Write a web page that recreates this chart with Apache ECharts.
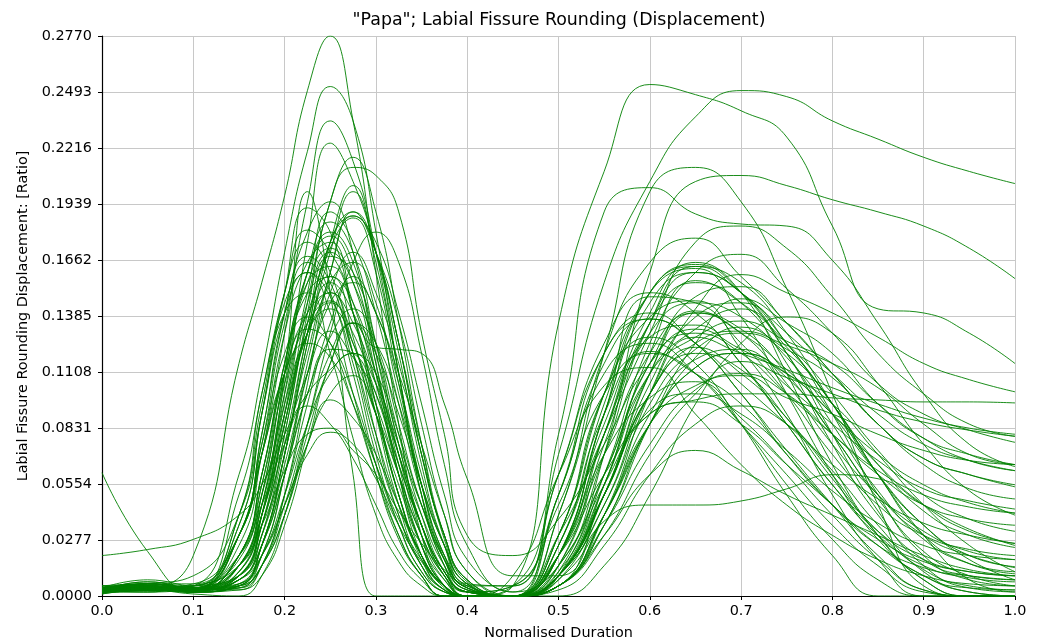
<!DOCTYPE html>
<html>
<head>
<meta charset="utf-8">
<script src="https://cdn.jsdelivr.net/npm/echarts@6/dist/echarts.min.js"></script>
<style>
  html, body { margin: 0; padding: 0; background: #fff; }
  #main { width: 1040px; height: 643px; }
</style>
</head>
<body>
<div id="main"></div>
<script>
// normalised duration sample points shared by every token curve
var xs = [0, 0.05, 0.1, 0.15, 0.175, 0.2, 0.225, 0.25, 0.275, 0.3, 0.325, 0.35, 0.375, 0.4,
          0.45, 0.5, 0.55, 0.6, 0.65, 0.7, 0.75, 0.8, 0.85, 0.9, 0.95, 1.0];

// tokens with a high first peak
var tallCurves = [
  [.003,.004,.02,.115,.155,.198,.25,.277,.235,.16,.085,.03,.005,0,.005,.135,.21,.253,.248,.24,.227,.183,.142,.14,.13,.115],
  [.004,.003,.005,.06,.11,.17,.22,.252,.235,.18,.11,.05,.015,.002,0,.07,.155,.205,.237,.25,.247,.235,.226,.217,.21,.204],
  [.002,.005,.003,.03,.07,.13,.195,.235,.215,.17,.11,.055,.018,.003,0,.04,.12,.2,.212,.195,.152,.1,.045,.005,0,0],
  [.005,.004,.002,.02,.05,.1,.175,.224,.205,.17,.12,.065,.025,.005,.005,.08,.19,.202,.189,.184,.183,.166,.135,.1,.075,.064],
  [.003,.006,.004,.015,.04,.085,.145,.195,.217,.19,.135,.075,.028,.006,0,.01,.07,.16,.205,.208,.203,.196,.19,.183,.172,.157],
  [.001,.003,.003,.01,.035,.08,.14,.195,.212,.208,.19,.13,.08,.03,.02,.038,.075,.115,.132,.122,.11,.095,.07,.045,.025,.012],
  [.002,.002,.004,.01,.04,.11,.2,.15,.06,0,0,0,0,0,0,.02,.08,.13,.145,.138,.118,.09,.06,.035,.018,.008],
  [.004,.005,.002,.005,.025,.07,.125,.175,.203,.165,.11,.05,.015,0,0,.03,.08,.13,.175,.183,.172,.148,.12,.1,.085,.079],
  [.002,.004,.005,.01,.03,.07,.125,.17,.2,.17,.125,.07,.03,.008,0,.025,.09,.15,.163,.15,.13,.11,.09,.075,.067,.062],
  [.003,.007,.004,.03,.08,.14,.18,.195,.17,.115,.06,.02,.003,0,0,.02,.07,.12,.14,.132,.11,.08,.05,.03,.02,.014],
  [.001,.003,.002,.005,.02,.06,.115,.16,.19,.17,.135,.085,.04,.012,0,.04,.12,.165,.177,.158,.135,.11,.085,.068,.06,.054],
  [.004,.005,.003,.008,.03,.075,.13,.175,.188,.17,.125,.075,.03,.007,0,.01,.06,.125,.16,.169,.152,.13,.105,.09,.082,.076],
  [.002,.002,.004,.003,.015,.05,.105,.16,.188,.175,.14,.095,.05,.018,.002,.05,.12,.137,.125,.105,.085,.065,.048,.036,.03,.026],
  [.003,.004,.003,.05,.1,.15,.181,.17,.145,.105,.06,.025,.005,0,0,.005,.04,.1,.142,.159,.15,.14,.128,.115,.107,.101],
  [.002,.003,.001,0,.01,.04,.085,.13,.165,.18,.165,.12,.065,.025,.002,.015,.06,.115,.141,.13,.112,.09,.07,.055,.046,.041]
];

// tokens with a medium first peak
var midCurves = [
  [.001,.005,.003,.004,.02,.06,.11,.15,.17,.15,.115,.07,.03,.008,0,.01,.05,.1,.123,.11,.088,.06,.03,.008,0,0],
  [.02,.023,.028,.04,.055,.08,.1,.112,.12,.105,.075,.045,.02,.005,0,.02,.06,.09,.097,.1,.1,.098,.097,.096,.096,.0955],
  [.061,.022,.002,.02,.06,.11,.14,.15,.125,.09,.05,.02,.005,0,0,.01,.05,.1,.125,.131,.124,.115,.103,.085,.07,.065],
  [.003,.006,.004,.015,.04,.09,.13,.142,.125,.09,.05,.02,.005,0,0,.005,.03,.06,.072,.062,.05,.04,.03,.02,.013,.01],
  [.004,.004,.006,.03,.07,.11,.132,.125,.1,.065,.035,.012,.002,0,0,.005,.037,.045,.045,.047,.053,.06,.058,.045,.033,.025],
  [.002,.003,.002,.008,.025,.06,.1,.122,.12,.095,.06,.03,.01,.002,.005,.05,.115,.137,.125,.1,.072,.045,.02,.003,0,0],
  [.003,.005,.002,.03,.075,.135,.165,.15,.11,.065,.03,.01,0,0,0,.03,.1,.15,.162,.138,.1,.06,.028,.01,.004,.003],
  [.004,.006,.003,.02,.06,.115,.15,.158,.128,.08,.04,.015,.003,0,0,.02,.08,.135,.155,.145,.115,.075,.04,.018,.01,.008],
  [.005,.004,.004,.015,.05,.11,.155,.172,.155,.11,.06,.025,.005,0,0,.01,.045,.095,.122,.13,.12,.095,.06,.03,.016,.011],
  [.002,.003,.005,.018,.055,.115,.16,.18,.165,.12,.07,.03,.008,0,0,.03,.1,.128,.115,.085,.05,.02,0,0,0,0],
  [.004,.005,.002,.006,.025,.07,.12,.155,.165,.145,.1,.055,.02,.004,0,.01,.055,.11,.132,.142,.123,.095,.06,.03,.008,.002],
  [.003,.007,.004,.012,.04,.085,.13,.15,.135,.105,.07,.04,.015,.003,0,.02,.09,.145,.16,.15,.125,.095,.065,.042,.03,.024],
  [.002,.004,.003,.04,.095,.145,.16,.14,.1,.06,.028,.01,0,0,0,.015,.06,.11,.128,.136,.126,.115,.095,.078,.067,.062],
  [.003,.004,.005,.01,.035,.09,.15,.19,.175,.14,.095,.05,.018,.003,0,.05,.11,.125,.11,.085,.06,.035,.015,.002,0,0],
  [.004,.005,.003,.02,.055,.105,.135,.146,.12,.09,.055,.025,.008,0,0,.01,.055,.12,.156,.145,.125,.1,.072,.05,.038,.032],
  [.002,.006,.004,.025,.07,.13,.165,.175,.14,.09,.045,.015,.002,0,0,.015,.075,.135,.16,.15,.12,.08,.042,.015,.004,.002],
  [.003,.004,.002,.005,.025,.065,.11,.145,.155,.14,.105,.06,.025,.006,0,.005,.035,.085,.113,.12,.108,.08,.048,.022,.01,.005],
  [.004,.005,.004,.01,.035,.075,.11,.131,.118,.1,.065,.035,.012,.002,0,.005,.035,.085,.125,.147,.135,.12,.095,.078,.07,.065],
  [.002,.003,.003,.01,.04,.095,.145,.17,.155,.12,.075,.035,.01,0,0,.02,.07,.098,.106,.088,.065,.04,.018,.003,0,0],
  [.003,.005,.004,.03,.075,.12,.138,.125,.095,.06,.03,.01,0,0,.005,.06,.125,.15,.14,.115,.085,.055,.032,.018,.012,.01],
  [.002,.003,.002,.003,.01,.035,.075,.115,.135,.123,.122,.12,.095,.058,.01,.01,.055,.115,.13,.12,.1,.08,.062,.05,.044,.041],
  [.004,.004,.003,.008,.03,.08,.135,.172,.187,.16,.105,.055,.02,.004,0,.025,.09,.121,.11,.095,.07,.045,.025,.014,.01,.008],
  [.003,.002,.004,.004,.015,.05,.095,.135,.158,.14,.11,.075,.04,.012,0,.012,.07,.135,.163,.155,.13,.095,.06,.035,.02,.0145],
  [.004,.006,.005,.04,.1,.14,.15,.12,.078,.04,.017,.005,0,0,0,.008,.04,.085,.118,.133,.122,.108,.085,.065,.053,.048],
  [.003,.003,.002,.015,.05,.11,.16,.178,.16,.115,.065,.025,.005,0,0,.03,.1,.138,.146,.122,.09,.05,.018,0,0,0],
  [.002,.004,.003,.006,.02,.05,.085,.11,.12,.11,.08,.045,.018,.004,0,.003,.025,.06,.085,.094,.085,.062,.035,.012,.002,0],
  [.004,.008,.005,.035,.09,.15,.192,.18,.14,.095,.05,.018,.003,0,0,.025,.095,.15,.164,.15,.12,.085,.052,.028,.016,.012],
  [.003,.004,.003,.008,.025,.06,.1,.128,.142,.125,.085,.045,.018,.004,0,.01,.045,.1,.128,.12,.112,.103,.095,.088,.083,.08],
  [.004,.005,.003,.02,.06,.115,.155,.163,.14,.095,.05,.02,.004,0,0,.01,.05,.1,.12,.112,.088,.058,.032,.013,.005,.003],
  [.002,.003,.002,.012,.04,.09,.13,.155,.14,.11,.07,.035,.012,.002,0,0,.015,.05,.095,.125,.138,.13,.105,.075,.052,.04],
  [.003,.004,.003,.005,.015,.045,.085,.12,.135,.125,.095,.055,.025,.006,.005,.06,.12,.14,.125,.1,.07,.045,.028,.017,.012,.01],
  [.002,.003,.004,.006,.025,.07,.13,.175,.19,.17,.125,.07,.03,.008,0,.005,.04,.085,.113,.12,.11,.09,.065,.045,.032,.026],
  [.004,.006,.01,.04,.09,.14,.16,.148,.115,.07,.035,.012,.002,0,0,.005,.04,.085,.104,.109,.098,.09,.08,.072,.067,.065],
  [.003,.005,.004,.03,.08,.14,.168,.155,.12,.08,.045,.02,.005,0,0,.02,.09,.148,.145,.125,.1,.07,.045,.03,.023,.02],
  [.004,.006,.003,.015,.045,.095,.13,.145,.13,.1,.065,.035,.012,.002,0,.005,.035,.075,.102,.11,.1,.08,.06,.045,.038,.035],
  [.002,.004,.004,.035,.09,.15,.175,.16,.12,.075,.04,.015,.003,0,0,.02,.085,.128,.134,.115,.085,.055,.03,.015,.009,.007],
  [.003,.005,.002,.004,.015,.04,.08,.115,.135,.12,.09,.055,.025,.006,0,.008,.05,.11,.148,.153,.135,.11,.085,.068,.06,.055],
  [.004,.004,.003,.015,.045,.1,.14,.158,.145,.11,.07,.035,.012,.002,.005,.045,.1,.12,.11,.085,.055,.028,.008,0,0,0],
  [.002,.005,.003,.012,.045,.105,.16,.185,.17,.125,.075,.035,.01,0,0,.01,.05,.105,.138,.145,.125,.09,.05,.02,.008,.005],
  [.005,.006,.006,.03,.07,.11,.125,.118,.095,.065,.038,.018,.005,0,0,.012,.055,.092,.1,.09,.072,.052,.036,.025,.02,.018],
  [.003,.004,.003,.01,.035,.085,.135,.168,.16,.125,.08,.04,.012,.002,0,.015,.08,.14,.165,.15,.11,.065,.03,.008,0,0]
];

// tokens with a low first peak
var lowCurves = [
  [.005,.005,.004,.005,.015,.04,.075,.1,.109,.09,.06,.03,.01,0,0,.01,.05,.11,.14,.13,.105,.075,.05,.032,.022,.018],
  [.002,.004,.003,.008,.02,.045,.075,.097,.088,.07,.045,.02,.005,0,0,.005,.04,.09,.117,.122,.104,.085,.067,.053,.047,.043],
  [.003,.006,.004,.02,.045,.075,.094,.085,.068,.045,.022,.008,0,0,.01,.06,.104,.113,.09,.065,.045,.03,.018,.01,.006,.005],
  [.004,.003,.005,.015,.035,.062,.08,.083,.072,.06,.042,.026,.013,.005,0,.01,.05,.09,.096,.085,.065,.045,.025,.01,.002,0],
  [.002,.004,.002,.005,.02,.045,.07,.081,.075,.058,.035,.017,.005,0,0,.005,.03,.07,.1,.116,.108,.1,.092,.086,.082,.079]
];

var yStep = 0.0277;
var yMax = 0.277;

var allCurves = tallCurves.concat(midCurves, lowCurves);

var myChart = echarts.init(document.getElementById('main'));

var series = allCurves.map(function (ys, i) {
    return {
        name: 'token' + (i + 1),
        type: 'line',
        data: ys.map(function (y, j) { return [xs[j], y]; }),
        smooth: 0.5,
        showSymbol: false,
        symbol: 'none',
        silent: true,
        clip: true,
        lineStyle: { color: '#008000', width: 0.9 }
    };
});

var option = {
    animation: false,
    backgroundColor: '#ffffff',
    textStyle: { fontFamily: 'DejaVu Sans' },
    title: {
        text: '"Papa"; Labial Fissure Rounding (Displacement)',
        left: 559,
        top: 12,
        padding: 0,
        textAlign: 'center',
        textStyle: { fontFamily: 'DejaVu Sans', fontSize: 17.4, fontWeight: 'normal', color: '#000' }
    },
    grid: { left: 102, right: 25, top: 36, bottom: 47, containLabel: false, outerBoundsMode: 'none' },
    xAxis: {
        type: 'value',
        min: 0,
        max: 1,
        interval: 0.1,
        name: 'Normalised Duration',
        nameLocation: 'middle',
        nameGap: 30,
        nameTextStyle: { fontFamily: 'DejaVu Sans', fontSize: 14.4, color: '#000' },
        axisLine: { show: true, onZero: false, lineStyle: { color: '#000', width: 1.2 } },
        axisTick: { show: true, length: 4, lineStyle: { color: '#000' } },
        axisLabel: {
            margin: 8,
            fontFamily: 'DejaVu Sans',
            fontSize: 14.4,
            color: '#000',
            formatter: function (v) { return v.toFixed(1); }
        },
        splitLine: { show: true, lineStyle: { color: '#c8c8c8', width: 1 } }
    },
    yAxis: {
        type: 'value',
        min: 0,
        max: yMax,
        interval: yStep,
        name: 'Labial Fissure Rounding Displacement: [Ratio]',
        nameLocation: 'middle',
        nameGap: 68,
        nameTextStyle: { fontFamily: 'DejaVu Sans', fontSize: 14.4, color: '#000' },
        axisLine: { show: true, lineStyle: { color: '#000', width: 1.2 } },
        axisTick: { show: true, length: 4, lineStyle: { color: '#000' } },
        axisLabel: {
            margin: 10,
            fontFamily: 'DejaVu Sans',
            fontSize: 14.4,
            color: '#000',
            formatter: function (v) { return v.toFixed(4); }
        },
        splitLine: { show: true, lineStyle: { color: '#c8c8c8', width: 1 } }
    },
    series: series
};

myChart.setOption(option);
</script>
</body>
</html>
